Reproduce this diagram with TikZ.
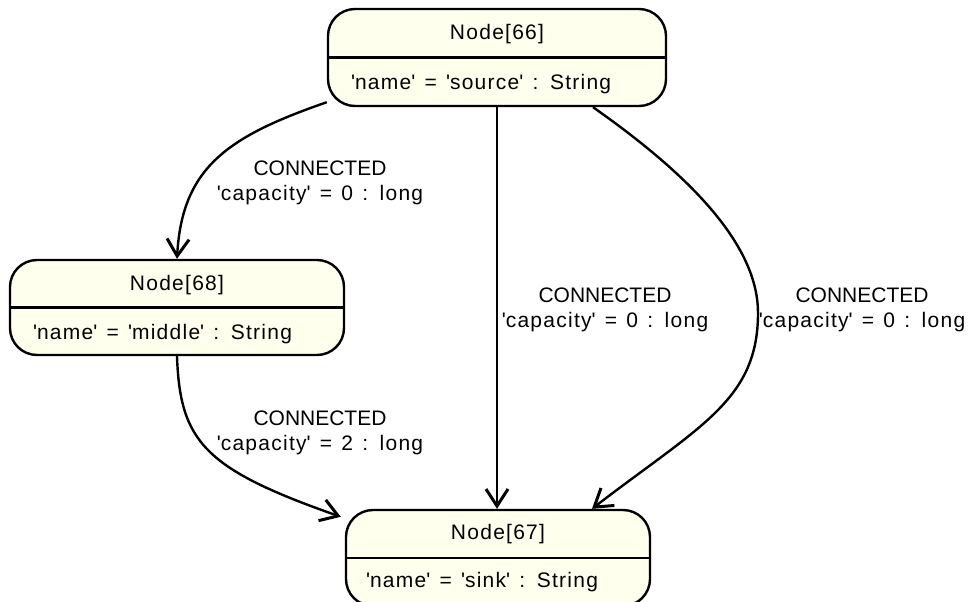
\documentclass[tikz,border=0pt]{standalone}
\usepackage{fontspec}
\setmainfont{Liberation Sans}[LetterSpace=6, WordSpace=1.3]
\usepackage{xcolor}
\usepackage{tikz}
\usetikzlibrary{arrows.meta, positioning}
\definecolor{nodefill}{RGB}{255,255,238}
\newcommand{\apos}{\textquotesingle}
\newcommand{\caps}[1]{{\addfontfeature{LetterSpace=0}#1}}

\begin{document}
\begin{tikzpicture}[
      x=1pt, y=-1pt,
      entity/.style={draw, line width=2.4pt, rounded corners=27pt, fill=nodefill},
      nodetitle/.style={anchor=base, inner sep=0pt, font=\fontsize{21}{24}\selectfont},
      nodeattr/.style={anchor=base west, inner sep=0pt, font=\fontsize{21}{24}\selectfont},
      rel/.style={align=center, inner sep=0pt, font=\fontsize{21}{25}\selectfont},
      arrow/.style={-{Straight Barb[length=17pt, width=22pt, line width=3pt]}, line width=2.4pt}
    ]
      \useasboundingbox (0,0) rectangle (974,602);

      % entities
      \node[entity, minimum width=338pt, minimum height=97pt] (n66) at (497,57.5) {};
      \node[entity, minimum width=334pt, minimum height=95pt] (n68) at (177,307.5) {};
      \node[entity, minimum width=304pt, minimum height=96pt] (n67) at (498,558) {};

      \draw[line width=2.4pt] (n66.west) -- (n66.east);
      \draw[line width=2.4pt] (n68.west) -- (n68.east);
      \draw[line width=2.4pt] (n67.west) -- (n67.east);

      \node[nodetitle] (t66) at ([yshift=-32pt]n66.north) {Node[66]};
      \node[nodetitle] (t68) at ([yshift=-32pt]n68.north) {Node[68]};
      \node[nodetitle] (t67) at ([yshift=-31pt]n67.north) {Node[67]};

      \node[nodeattr] (a66) at ([xshift=24pt, yshift=-32pt]n66.west) {\apos name\apos{} = \apos source\apos{} : String};
      \node[nodeattr] (a68) at ([xshift=24pt, yshift=-32pt]n68.west) {\apos name\apos{} = \apos middle\apos{} : String};
      \node[nodeattr] (a67) at ([xshift=21pt, yshift=-29pt]n67.west) {\apos name\apos{} = \apos sink\apos{} : String};

      % relationships
      \draw[arrow] ([yshift=5pt]n66.south west) .. controls +(-98,34) and +(5,-92) .. (n68.north);
      \draw[arrow] (n66.south) -- (n66.south |- n67.north);
      \draw[arrow] ([xshift=96pt]n66.south) .. controls +(107,75) and +(0,-63) .. (758,313)
        .. controls +(0,87) and +(108,-83) .. ([xshift=94pt]n67.north);
      \draw[arrow] (n68.south) .. controls +(3,85) and +(-137,-48) .. ([xshift=-4pt, yshift=-8pt]n67.north west);

      \node[rel] (r1) at (320,183) {\caps{CONNECTED}\\\apos capacity\apos{} = 0 : long};
      \node[rel] (r2) at (605,310) {\caps{CONNECTED}\\\apos capacity\apos{} = 0 : long};
      \node[rel] (r3) at (862,310) {\caps{CONNECTED}\\\apos capacity\apos{} = 0 : long};
      \node[rel] (r4) at (320,433) {\caps{CONNECTED}\\\apos capacity\apos{} = 2 : long};
    \end{tikzpicture}
\end{document}
